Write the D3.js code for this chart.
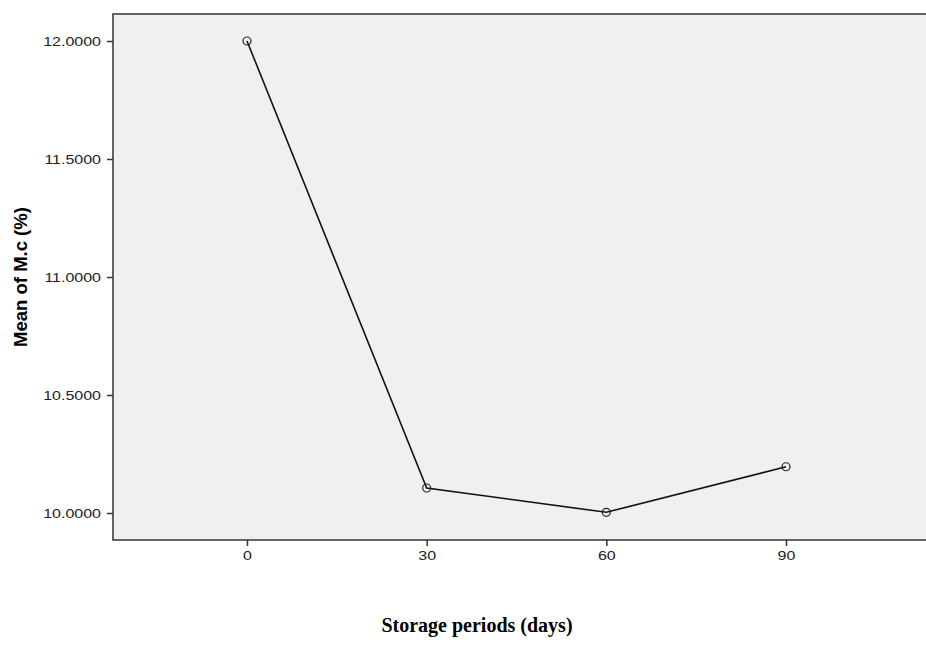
<!DOCTYPE html>
<html><head><meta charset="utf-8">
<script src="https://cdn.jsdelivr.net/npm/d3@7"></script>
<style>body{margin:0;background:#fff}svg{display:block}</style>
</head><body>
<svg id="c" width="926" height="662"></svg>
<script>
const days = [0, 30, 60, 90];
const meanMC = [12.0, 10.106, 10.003, 10.196];
const yTicks = [10.0, 10.5, 11.0, 11.5, 12.0];
const xLabel = "Storage periods (days)";
const yLabel = "Mean of M.c (%)";

const svg = d3.select("#c");
const L = 113, T = 14, R = 930, B = 540;
const x = d3.scaleLinear().domain([0, 90]).range([247, 786]);
const y = d3.scaleLinear().domain([10, 12]).range([513, 41]);

svg.append("rect").attr("x", L).attr("y", T).attr("width", R - L).attr("height", B - T)
  .attr("fill", "#f0f0f0").attr("stroke", "#333").attr("stroke-width", 1.5);

const tickFont = "Liberation Sans, Arial, sans-serif";
const ya = svg.append("g").attr("transform", `translate(${L},0)`)
  .call(d3.axisLeft(y).tickValues(yTicks).tickFormat(d3.format(".4f")).tickSize(6).tickPadding(3));
const xa = svg.append("g").attr("transform", `translate(0,${B})`)
  .call(d3.axisBottom(x).tickValues(days).tickFormat(d3.format("d")).tickSize(6).tickPadding(3));
[ya, xa].forEach(a => {
  a.select(".domain").remove();
  a.selectAll(".tick line").attr("stroke", "#333").attr("stroke-width", 1.5);
  a.selectAll(".tick text").attr("fill", "#222").attr("font-family", tickFont).attr("font-size", 12.5);
});
ya.selectAll(".tick text").each(function() {
  const t = d3.select(this);
  t.attr("transform", "translate(-4,0) scale(1.28,1)").attr("x", -8 / 1.28);
});
xa.selectAll(".tick text").attr("dy", "0.9em").each(function() {
  const t = d3.select(this);
  const tx = +d3.select(this.parentNode).attr("transform").match(/translate\(([^,]+)/)[1];
  t.attr("transform", "scale(1.28,1)");
});

const line = d3.line().x((d, i) => x(days[i])).y(d => y(d));
svg.append("path").datum(meanMC).attr("d", line).attr("fill", "none")
  .attr("stroke", "#111").attr("stroke-width", 1.6);
svg.selectAll("circle.pt").data(meanMC).join("circle").attr("class", "pt")
  .attr("cx", (d, i) => x(days[i])).attr("cy", d => y(d)).attr("r", 4)
  .attr("fill", "none").attr("stroke", "#222").attr("stroke-width", 1.2);

svg.append("text").attr("transform", `translate(27,277) rotate(-90)`)
  .attr("text-anchor", "middle").attr("font-family", "Liberation Sans, Arial, sans-serif")
  .attr("font-weight", "bold").attr("font-size", 18.5).attr("fill", "#000").text(yLabel);

svg.append("text").attr("x", 477).attr("y", 632).attr("text-anchor", "middle")
  .attr("font-family", "Liberation Serif, Times New Roman, serif").attr("font-weight", "bold")
  .attr("font-size", 20).attr("fill", "#000").text(xLabel);
</script>
</body></html>
